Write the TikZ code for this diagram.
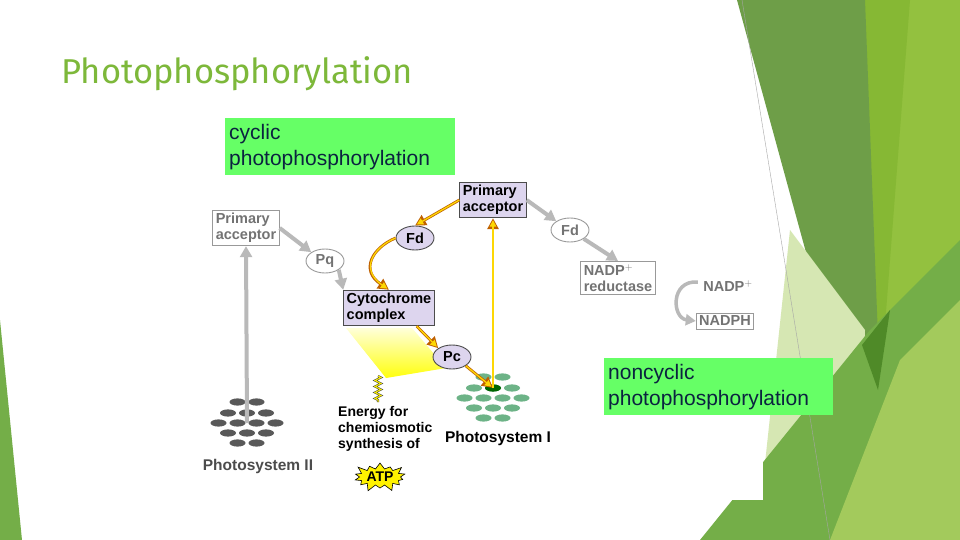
\documentclass[tikz,border=0pt]{standalone}
\usepackage{fontspec}
\setmainfont{Liberation Sans}
\newfontfamily\titlefont{Fira Sans}
\usetikzlibrary{arrows.meta,shapes.geometric,shapes.symbols,decorations.pathmorphing}
\definecolor{lav}{HTML}{DDD5EE}
\definecolor{boxgreen}{HTML}{66FF66}
\definecolor{navy}{HTML}{0B2340}
\definecolor{ttl}{HTML}{7DB83A}
\definecolor{gA}{HTML}{93C13F}
\definecolor{gB}{HTML}{6E9E48}
\definecolor{gC}{HTML}{D6E7B3}
\definecolor{gD}{HTML}{74AE48}
\definecolor{gE}{HTML}{4F8A28}
\definecolor{gF}{HTML}{86B834}
\definecolor{psg}{HTML}{6DB387}
\tikzset{
 dfont/.style={font=\fontsize{14.5}{16}\selectfont\bfseries},
 gbox/.style={draw=gray!80, fill=white, text=gray!90!black, line width=0.9pt, dfont, align=left, inner sep=3pt},
 lbox/.style={draw=black!70, fill=lav, text=black, line width=0.9pt, dfont, align=left, inner sep=3pt},
 gell/.style={ellipse, draw=gray!80, fill=white, text=gray!90!black, line width=0.9pt, dfont, minimum width=38pt, minimum height=24pt, inner sep=0pt},
 lell/.style={ellipse, draw=black!70, fill=lav, text=black, line width=0.9pt, dfont, minimum width=38pt, minimum height=24pt, inner sep=0pt},
 garr/.style={draw=gray!55, line width=4pt, -{Triangle[length=11pt,width=12pt]}},
 yarr/.style={draw=orange!75!black, line width=2.8pt, -{Triangle[length=11pt,width=11pt]},
   postaction={draw=yellow!75!orange, line width=1.3pt, -{Triangle[length=6.5pt,width=6.5pt]}, shorten >=2pt}},
 lbl/.style={fill=boxgreen, text=navy, font=\fontsize{21}{24}\selectfont, align=left, inner sep=0pt, anchor=north west},
}
\begin{document}
\begin{tikzpicture}[x=1pt,y=-1pt]
\useasboundingbox (0,0) rectangle (960,540);
\fill[white] (0,0) rectangle (960,540);
% background decoration
\fill[gA] (875,0) -- (960,0) -- (960,540) -- (800,540) -- cycle;
\fill[gF] (860,0) -- (910,0) -- (880,390) -- cycle;
\fill[gB] (737,0) -- (865,0) -- (880,390) -- (860,450) -- cycle;
\fill[gC] (790,230) -- (865,330) -- (860,450) -- (760,510) -- cycle;
\fill[gD] (700,540) -- (870,330) -- (960,240) -- (960,540) -- cycle;
\fill[gA!85!white] (830,540) -- (900,360) -- (960,300) -- (960,540) -- cycle;
\fill[gE] (862,345) -- (890,310) -- (878,390) -- cycle;
\fill[gD] (0,320) -- (22,540) -- (0,540) -- cycle;
\draw[gray!70, line width=0.4pt] (742,0) -- (830,540);
\fill[white] (195,175) rectangle (763,500);
% title
\node[anchor=west, text=ttl, font=\titlefont\fontsize{34.5}{38}\selectfont] (title) at (58,74) {Photophosphorylation};
% labels
\node[lbl, minimum width=228pt, minimum height=57pt, text width=222pt, inner xsep=4pt] (cyc) at (225,118) {\vspace{2pt}cyclic\\photophosphorylation};
\node[lbl, minimum width=227pt, minimum height=57pt, text width=221pt, inner xsep=4pt] (nc) at (604,358) {\vspace{2pt}noncyclic\\photophosphorylation};
% yellow gradient
\shade[top color=yellow!15, bottom color=yellow!95] (346,328) -- (412,328) -- (446,368) -- (386,378) -- cycle;
% nodes
\node[gbox] (pa2) at (246,228) {Primary\\acceptor};
\node[lbox] (pa1) at (493,200) {Primary\\acceptor};
\node[lell] (fd1) at (415,238) {Fd};
\node[gell] (pq) at (325,261) {Pq};
\node[gell] (fd2) at (570,230) {Fd};
\node[lbox] (cyt) at (389,308) {Cytochrome\\complex};
\node[lell] (pc) at (452,357) {Pc};
\node[gbox] (red) at (618,278) {NADP$^{\mathbf{+}}$\\reductase};
\node[text=gray!90!black, dfont] (nadp) at (728,286) {NADP$^{\mathbf{+}}$};
\node[gbox] (nadph) at (725,321) {NADPH};
% PS II
\foreach \y/\n in {402/2,413/3,423/4,433/3,443/2}{
  \foreach \i in {1,...,\n}{
    \fill[black!65] ({247+(\i-(\n+1)/2)*19},\y) ellipse (8pt and 3.6pt);
  }}
\coordinate (ps2c) at (247,423);
\foreach \y/\n in {377/2,388/3,398/4,408/3,418/2}{
  \foreach \i in {1,...,\n}{
    \fill[psg] ({493+(\i-(\n+1)/2)*19},\y) ellipse (8pt and 3.6pt);
  }}
\fill[green!40!black] (493,388) ellipse (8pt and 3.6pt);
\coordinate (ps1c) at (493,388);
\node[text=black!70, font=\fontsize{15.5}{18}\selectfont\bfseries] (ps2) at (258,466) {Photosystem II};
\node[text=black, font=\fontsize{15.5}{18}\selectfont\bfseries] (ps1) at (498,438) {Photosystem I};
\node[align=left, anchor=north west, font=\fontsize{14}{16}\selectfont\bfseries, inner sep=0pt] (en) at (338,406) {Energy for\\chemiosmotic\\synthesis of};
\node[starburst, starburst points=14, starburst point height=8pt, fill=yellow, draw=black, line width=0.6pt, font=\fontsize{14}{16}\selectfont\bfseries, inner sep=1pt] (atp) at (380,477) {ATP};
% zigzag
\coordinate (z1) at (378,376);
\coordinate (z2) at (378,402);
\draw[black!70, line width=2.2pt, decorate, decoration={zigzag, amplitude=3pt, segment length=6pt}] (z1) -- (z2);
\draw[yellow, line width=1pt, decorate, decoration={zigzag, amplitude=3pt, segment length=6pt}] (z1) -- (z2);
% gray arrows
\draw[garr] (ps2c) -- (pa2.south);
\draw[garr] (pa2.east) -- (pq.north west);
\draw[garr] (pq.south east) -- (cyt.north west);
\draw[garr] (pa1.east) -- (fd2.north west);
\draw[garr] (fd2.south east) -- (red.north);
\draw[gray!55, line width=3.5pt, -{Triangle[length=10pt,width=11pt]}] (nadp.west) ++(-2,-4) .. controls (670,280) and (672,318) .. (nadph.west);
% yellow arrows
\draw[yarr] (pa1.west) -- (fd1.north);
\draw[yarr] (fd1.west) .. controls (372,248) and (360,270) .. (cyt.north);
\draw[yarr] (cyt.south east) ++(-18,0) -- (pc.north west);
\draw[yarr] (pc.south east) -- (ps1c);
\draw[yarr] (ps1c) -- (pa1.south);
\end{tikzpicture}
\end{document}
